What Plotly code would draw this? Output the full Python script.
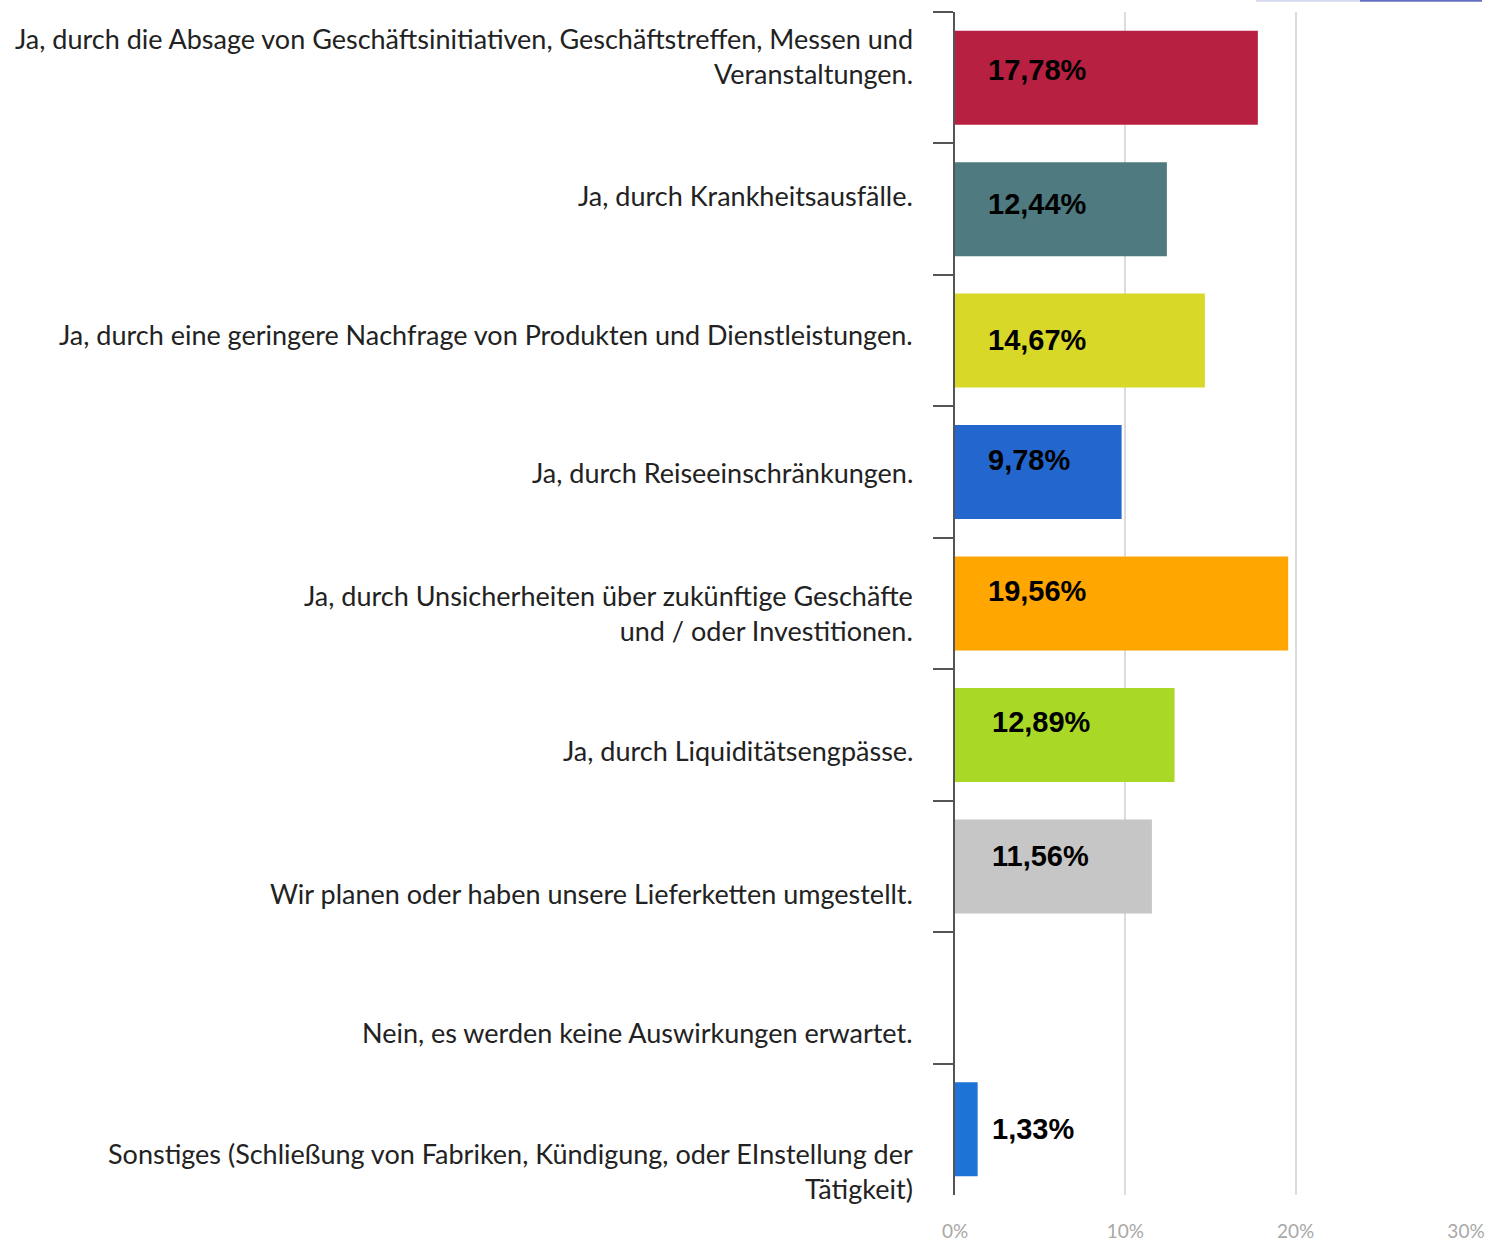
import plotly.graph_objects as go

# survey answers, top to bottom
categories = [
    "Ja, durch die Absage von Geschäftsinitiativen, Geschäftstreffen, Messen und<br>Veranstaltungen.",
    "Ja, durch Krankheitsausfälle.",
    "Ja, durch eine geringere Nachfrage von Produkten und Dienstleistungen.",
    "Ja, durch Reiseeinschränkungen.",
    "Ja, durch Unsicherheiten über zukünftige Geschäfte<br>und / oder Investitionen.",
    "Ja, durch Liquiditätsengpässe.",
    "Wir planen oder haben unsere Lieferketten umgestellt.",
    "Nein, es werden keine Auswirkungen erwartet.",
    "Sonstiges (Schließung von Fabriken, Kündigung, oder EInstellung der<br>Tätigkeit)",
]
values = [17.78, 12.44, 14.67, 9.78, 19.56, 12.89, 11.56, 0, 1.33]
value_text = ["17,78%", "12,44%", "14,67%", "9,78%", "19,56%", "12,89%", "11,56%", "", "1,33%"]
bar_colors = ["#B82041", "#4E7A80", "#D8D829", "#2367CE", "#FFA600",
              "#A9D926", "#C6C6C6", "#C6C6C6", "#1E73D6"]

x_ticks = [0, 10, 20, 30]
x_ticktext = ["0%", "10%", "20%", "30%"]

# the source is a collage, labels sit a bit off centre
label_shift = [22, 14, 6, 0, -9, -16, -27, -35, -42]
value_shift = [8, 5, 1, 12, 13, 13, 10, 0, 0]
value_xshift = [31, 31, 31, 31, 31, 35, 35, 35, 35]

ids = list(range(len(categories)))

fig = go.Figure()
fig.add_trace(go.Bar(
    x=values,
    y=ids,
    orientation="h",
    width=0.715,
    marker=dict(color=bar_colors, line=dict(width=0)),
    hoverinfo="skip",
))

for i, cat in enumerate(categories):
    fig.add_annotation(
        x=0, xref="paper", y=i, yref="y",
        text=cat, showarrow=False,
        xanchor="right", yanchor="middle", align="right",
        xshift=-40, yshift=label_shift[i],
        font=dict(family="Lato", size=27, color="#222222"),
    )
    if value_text[i]:
        fig.add_annotation(
            x=0, xref="x", y=i, yref="y",
            text="<b>" + value_text[i] + "</b>", showarrow=False,
            xanchor="left", yanchor="middle",
            xshift=value_xshift[i], yshift=value_shift[i],
            font=dict(family="Arial", size=29, color="#000000"),
        )

# leftover slider bits at the top edge of the screenshot
fig.add_shape(type="line", xref="paper", yref="paper",
              x0=(1256 - 955) / 511, x1=(1360 - 955) / 511, y0=1.0095, y1=1.0095,
              line=dict(color="#D5D9F0", width=2))
fig.add_shape(type="line", xref="paper", yref="paper",
              x0=(1360 - 955) / 511, x1=(1482 - 955) / 511, y0=1.0095, y1=1.0095,
              line=dict(color="#6670C2", width=2))

fig.update_xaxes(
    range=[0, 30],
    tickvals=x_ticks,
    ticktext=x_ticktext,
    showgrid=True,
    gridcolor="#DCDCDC",
    gridwidth=2,
    zeroline=False,
    showline=False,
    ticks="",
    ticklabelstandoff=23,
    tickfont=dict(family="Lato", size=19, color="#A8A8A8"),
    automargin=False,
    fixedrange=True,
)
fig.update_yaxes(
    type="category",
    autorange="reversed",
    showticklabels=False,
    showgrid=False,
    zeroline=False,
    showline=True,
    linecolor="#555555",
    linewidth=2,
    ticks="outside",
    tickson="boundaries",
    ticklen=20,
    tickwidth=2,
    tickcolor="#555555",
    automargin=False,
    fixedrange=True,
)

fig.update_layout(
    width=1487,
    height=1241,
    margin=dict(l=955, r=21, t=12, b=46),
    plot_bgcolor="white",
    paper_bgcolor="white",
    showlegend=False,
    bargap=0.285,
)

fig.write_html(
    "out.html",
    config={"displayModeBar": False},
    post_script="document.body.style.margin='0';document.body.style.overflow='hidden';",
)
